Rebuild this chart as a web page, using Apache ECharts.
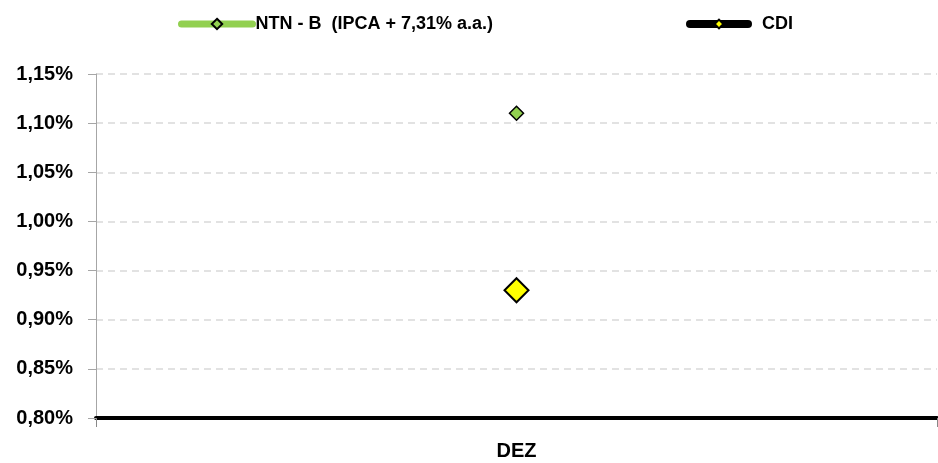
<!DOCTYPE html>
<html>
<head>
<meta charset="utf-8">
<script src="https://cdn.jsdelivr.net/npm/echarts@6/dist/echarts.min.js"></script>
<style>
  html, body { margin: 0; padding: 0; background: #fff; }
  #chart { width: 938px; height: 463px; }
</style>
</head>
<body>
<div id="chart"></div>
<script>
// Monthly return, in percent
const categories = ['DEZ'];
const ntnbValues = [1.11];
const cdiValues = [0.93];
const ntnbName = 'NTN - B  (IPCA + 7,31% a.a.)';
const cdiName = 'CDI';

const font = 'Liberation Sans, Arial, sans-serif';
const fmtPct = v => v.toFixed(2).replace('.', ',') + '%';

const legendText = { fontFamily: font, fontWeight: 'bold', fontSize: 18, color: '#000' };

const chart = echarts.init(document.getElementById('chart'), null, { renderer: 'canvas' });
chart.setOption({
  animation: false,
  backgroundColor: '#ffffff',
  textStyle: { fontFamily: font },
  legend: [
    {
      data: [ntnbName],
      left: 173, top: 10,
      itemWidth: 71, itemHeight: 13,
      lineStyle: { width: 7, cap: 'round' },
      textStyle: Object.assign({}, legendText, { padding: [0, 0, 0, -2] })
    },
    {
      data: [cdiName],
      left: 681, top: 10,
      itemWidth: 58, itemHeight: 11,
      lineStyle: { width: 8, cap: 'round' },
      textStyle: Object.assign({}, legendText, { padding: [0, 0, 0, 9] })
    }
  ],
  grid: { left: 96, right: 1, top: 74, bottom: 45, containLabel: false },
  xAxis: {
    type: 'category',
    data: categories,
    boundaryGap: true,
    axisLine: { show: true, lineStyle: { color: '#000', width: 4 } },
    axisTick: { show: true, length: 9, lineStyle: { color: '#888', width: 1 } },
    axisLabel: { fontFamily: font, fontWeight: 'bold', fontSize: 20, color: '#000', margin: 23 },
    splitLine: { show: false }
  },
  yAxis: {
    type: 'value',
    min: 0.8, max: 1.15, interval: 0.05,
    axisLine: { show: true, lineStyle: { color: '#a6a6a6', width: 1 } },
    axisTick: { show: true, length: 8, lineStyle: { color: '#a6a6a6' } },
    axisLabel: { fontFamily: font, fontWeight: 'bold', fontSize: 20, color: '#000', margin: 23, formatter: fmtPct },
    splitLine: { show: true, lineStyle: { color: '#d9d9d9', type: [7, 5], width: 1.5 } }
  },
  series: [
    {
      name: ntnbName,
      type: 'line',
      data: ntnbValues,
      symbol: 'diamond',
      symbolSize: 14,
      lineStyle: { color: '#92d050', width: 7, cap: 'round' },
      itemStyle: { color: '#92d050', borderColor: '#000', borderWidth: 1.5 },
      z: 3
    },
    {
      name: cdiName,
      type: 'line',
      data: cdiValues,
      symbol: 'diamond',
      symbolSize: 24,
      lineStyle: { color: '#000', width: 8, cap: 'round' },
      itemStyle: { color: '#ffff00', borderColor: '#000', borderWidth: 2 },
      z: 3
    }
  ]
});
</script>
</body>
</html>
